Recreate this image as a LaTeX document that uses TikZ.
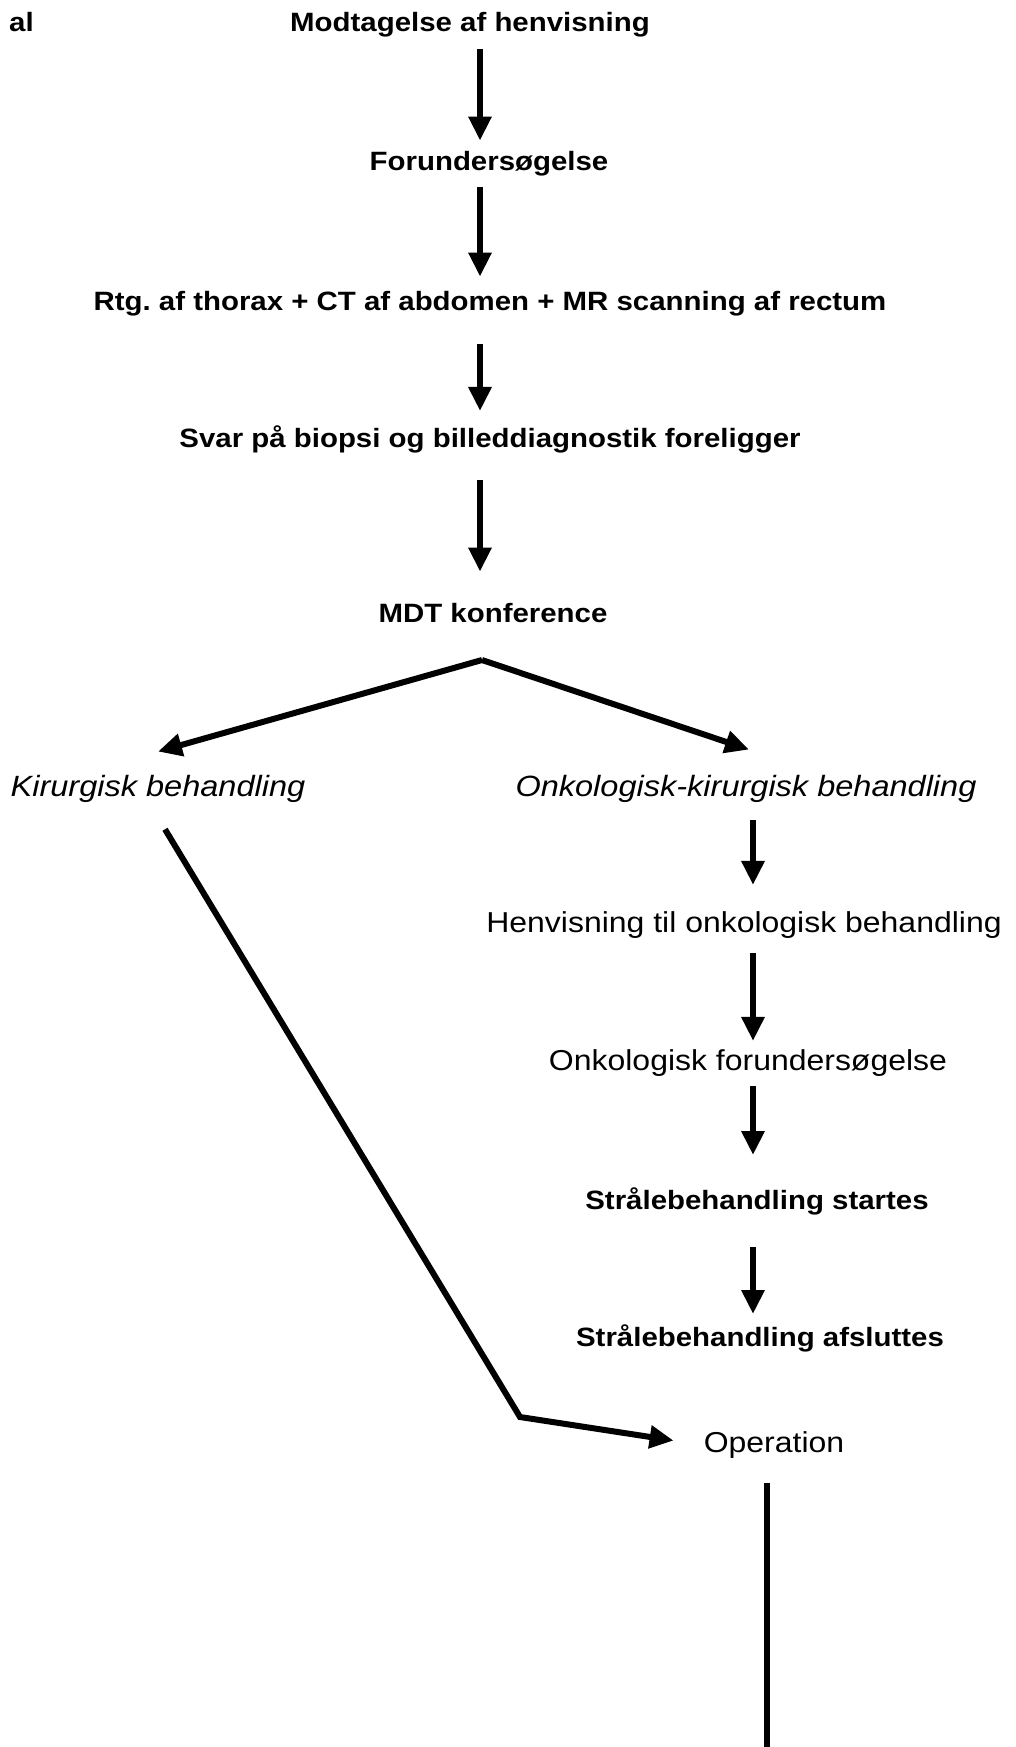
\documentclass[tikz,border=0pt]{standalone}
\usepackage{fontspec}
\setmainfont{Liberation Sans}
\newfontfamily\widefont[FakeStretch=1.11]{Liberation Sans}
\usetikzlibrary{arrows.meta}
\frenchspacing

\begin{document}
\begin{tikzpicture}[x=1pt, y=-1pt,
  boldtxt/.style={anchor=base, inner sep=0pt, font=\widefont\bfseries\fontsize{26.5}{31}\selectfont},
  ittxt/.style={anchor=base, inner sep=0pt, font=\widefont\itshape\fontsize{29.3}{34}\selectfont},
  plaintxt/.style={anchor=base, inner sep=0pt, font=\widefont\fontsize{28.8}{33}\selectfont},
  arr/.style={line width=6pt, -{Triangle[width=22pt,length=24pt]}},
  bar/.style={line width=6pt}]
  \useasboundingbox (0,0) rectangle (1015,1747);

  \coordinate (spine) at (480,0);
  \coordinate (rspine) at (753,0);
  \coordinate (split) at (482,660);
  \coordinate (bend) at (520,1417);
  \coordinate (cut) at (767,1747);

  % main column
  \node[boldtxt, anchor=base west] (tag) at (9,32) {al};
  \node[boldtxt] (modt) at (470,32) {Modtagelse af henvisning};
  \node[boldtxt] (forund) at (489,171) {Forundersøgelse};
  \node[boldtxt] (rtg) at (490,310) {Rtg.\ af thorax + CT af abdomen + MR scanning af rectum};
  \node[boldtxt] (svar) at (490,447) {Svar på biopsi og billeddiagnostik foreligger};
  \node[boldtxt] (mdt) at (493,622) {MDT konference};

  \draw[arr, shorten <=11pt, shorten >=11pt] (modt.south -| spine) -- (forund.north -| spine);
  \draw[arr, shorten <=10pt, shorten >=14pt] (forund.south -| spine) -- (rtg.north -| spine);
  \draw[arr, shorten <=28pt, shorten >=14pt] (rtg.south -| spine) -- (svar.north -| spine);
  \draw[arr, shorten <=27pt, shorten >=31pt] (svar.south -| spine) -- (mdt.north -| spine);

  % two branches
  \node[ittxt] (kir) at (158,796) {Kirurgisk behandling};
  \node[ittxt] (onkkir) at (746,796) {Onkologisk-kirurgisk behandling};

  \draw[arr] (split) -- ([yshift=23pt]kir.north);
  \draw[arr] (split) -- ([xshift=3pt,yshift=25pt]onkkir.north);

  % right column
  \node[plaintxt] (henv) at (744,932) {Henvisning til onkologisk behandling};
  \node[plaintxt] (onkfor) at (748,1070) {Onkologisk forundersøgelse};
  \node[boldtxt] (start) at (757,1209) {Strålebehandling startes};
  \node[boldtxt] (slut) at (760,1346) {Strålebehandling afsluttes};
  \node[plaintxt] (oper) at (774,1452) {Operation};

  \draw[arr, shorten <=18pt, shorten >=26pt] (onkkir.south -| rspine) -- (henv.north -| rspine);
  \draw[arr, shorten <=15pt, shorten >=8pt] (henv.south -| rspine) -- (onkfor.north -| rspine);
  \draw[arr, shorten <=10pt, shorten >=32pt] (onkfor.south -| rspine) -- (start.north -| rspine);
  \draw[arr, shorten <=32pt, shorten >=10pt] (start.south -| rspine) -- (slut.north -| rspine);

  % surgery only
  \draw[arr] ([xshift=7pt,yshift=-27pt]kir.south) -- (bend) -- ([xshift=-30pt,yshift=4pt]oper.west);
  \draw[bar] ([yshift=-25pt]oper.south -| cut) -- (cut);
\end{tikzpicture}
\end{document}
